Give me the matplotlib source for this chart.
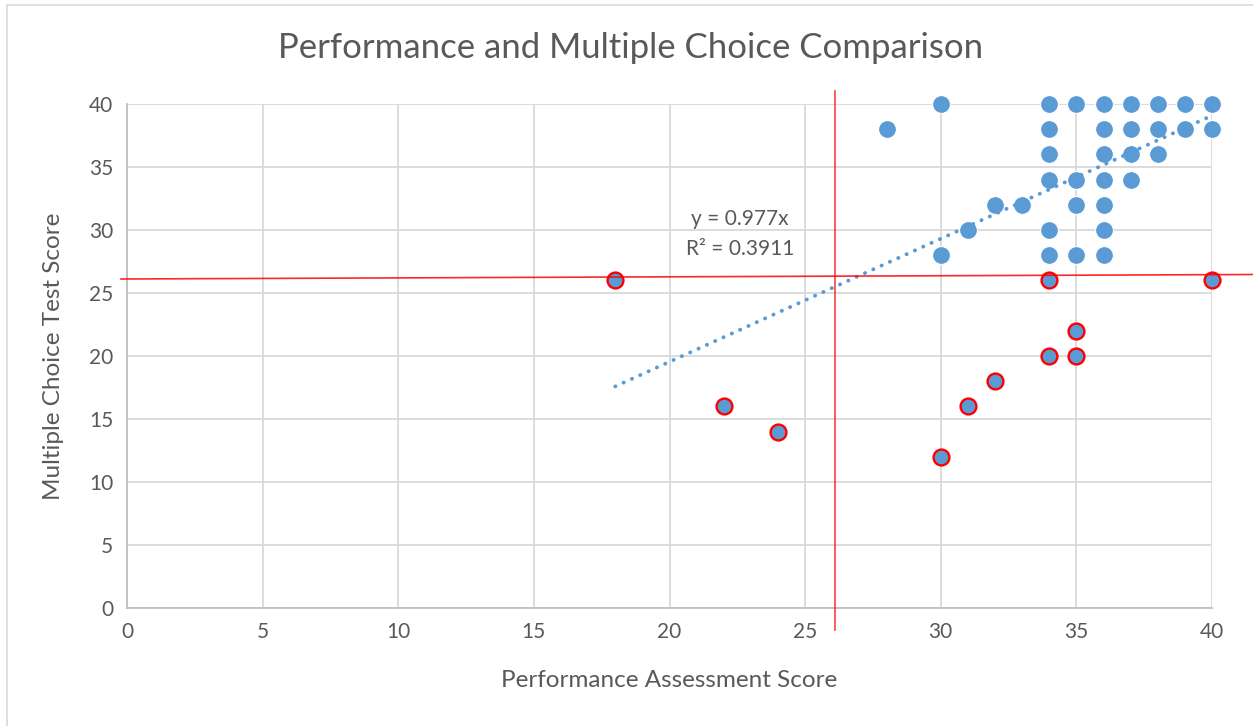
import numpy as np
import matplotlib.pyplot as plt
from matplotlib.lines import Line2D
from matplotlib.patches import Rectangle

# points at or above the cut line (plain markers)
x_high = [30, 34, 35, 36, 37, 38, 39, 40,
          28, 34, 36, 37, 38, 39, 40,
          34, 36, 37, 38,
          34, 35, 36, 37,
          32, 33, 35, 36,
          31, 34, 36,
          30, 34, 35, 36]
y_high = [40, 40, 40, 40, 40, 40, 40, 40,
          38, 38, 38, 38, 38, 38, 38,
          36, 36, 36, 36,
          34, 34, 34, 34,
          32, 32, 32, 32,
          30, 30, 30,
          28, 28, 28, 28]

# points below the cut line (red outline)
x_low = [18, 22, 24, 30, 31, 32, 34, 34, 35, 35, 40]
y_low = [26, 16, 14, 12, 16, 18, 26, 20, 22, 20, 26]

slope = 0.977
r2 = 0.3911
trend_x = [18, 40]

blue = '#5B9BD5'
grey_txt = '#595959'
grid_c = '#D9D9D9'

plt.rcParams['font.family'] = ['Lato', 'DejaVu Sans']

fig = plt.figure(figsize=(12.53, 7.26), dpi=100)
ax = fig.add_axes([127 / 1253, 1 - 608 / 726, (1212 - 127) / 1253, (608 - 104) / 726])

# chart area border
fig.patches.append(Rectangle((7 / 1253, -0.01), 1.1, 1 - 5 / 726 + 0.01, transform=fig.transFigure,
                             fill=False, edgecolor=grid_c, lw=1.2))

ax.set_xlim(0, 40)
ax.set_ylim(0, 40)
ax.set_xticks(np.arange(0, 41, 5))
ax.set_yticks(np.arange(0, 41, 5))
ax.grid(True, color=grid_c, lw=1.3)
ax.set_axisbelow(True)
for s in ['top', 'right']:
    ax.spines[s].set_visible(False)
for s in ['left', 'bottom']:
    ax.spines[s].set_color('#BFBFBF')
    ax.spines[s].set_linewidth(1.3)
ax.tick_params(length=0, labelsize=15, colors=grey_txt, pad=10)

tx = np.array(trend_x, dtype=float)
ax.plot(tx, slope * tx, color=blue, lw=2.8, linestyle=(0, (0.05, 2.3)),
        dash_capstyle='round', zorder=4, clip_on=False)

ax.scatter(x_high, y_high, s=165, color=blue, edgecolor='white', linewidth=0.8, zorder=3, clip_on=False)
ax.scatter(x_low, y_low, s=130, color=blue, edgecolor='#FF0000', linewidth=1.7, zorder=5, clip_on=False)

ax.text(22.6, 30.9, f'y = {slope}x', ha='center', va='center', fontsize=15, color=grey_txt)
ax.text(22.6, 28.5, f'R² = {r2}', ha='center', va='center', fontsize=15, color=grey_txt)

# red reference lines drawn across the chart
fig.add_artist(Line2D([835 / 1253, 835 / 1253], [1 - 91 / 726, 1 - 630 / 726],
                      color='#FF0000', lw=1.2, alpha=0.75, transform=fig.transFigure))
fig.add_artist(Line2D([121 / 1253, 1.0], [1 - 279 / 726, 1 - 274.5 / 726],
                      color='#FF0000', lw=1.2, alpha=0.85, transform=fig.transFigure))

fig.text(631 / 1253, 1 - 48 / 726, 'Performance and Multiple Choice Comparison',
         ha='center', va='center', fontsize=25, color=grey_txt)
ax.set_xlabel('Performance Assessment Score', fontsize=17.5, color=grey_txt, labelpad=20)
ax.set_ylabel('Multiple Choice Test Score', fontsize=17.5, color=grey_txt, labelpad=18)

fig.savefig('out.png', dpi=100)
